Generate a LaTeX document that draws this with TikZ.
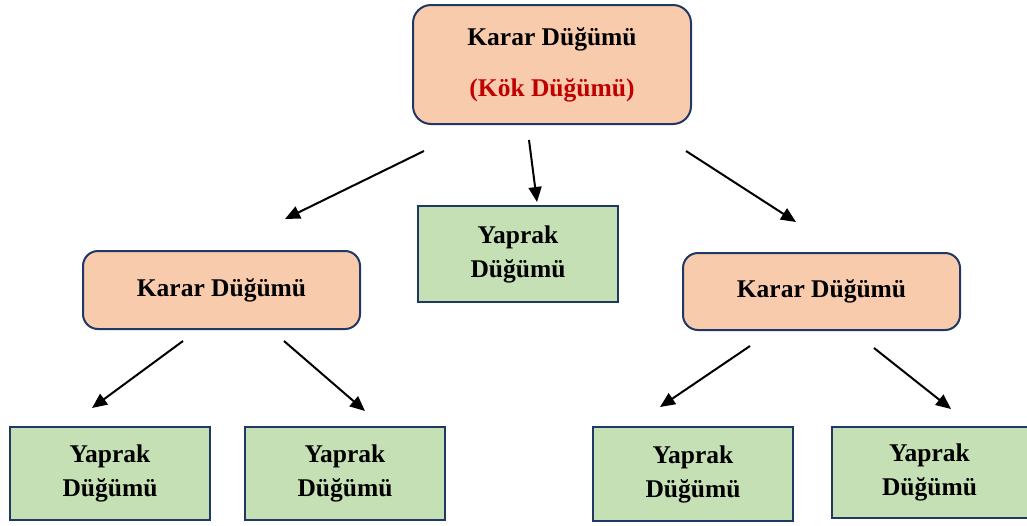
\documentclass[tikz,border=0pt]{standalone}
\usepackage{fontspec}
\setmainfont{Liberation Serif}
\usetikzlibrary{arrows.meta}
\definecolor{kararturuncu}{HTML}{F8CBAD}
\definecolor{yaprakyesil}{HTML}{C5E0B4}
\definecolor{kenarlacivert}{HTML}{203864}
\definecolor{kokkirmizi}{HTML}{C00000}

\begin{document}
\begin{tikzpicture}[x=1pt,y=-1pt,
		karar/.style={draw=kenarlacivert,fill=kararturuncu,line width=2pt,rounded corners=15pt,inner sep=0pt,align=center,font=\fontsize{25.5}{34}\selectfont\bfseries},
		yaprak/.style={draw=kenarlacivert,fill=yaprakyesil,line width=2pt,inner sep=0pt,align=center,minimum width=200pt,font=\fontsize{25.5}{34}\selectfont\bfseries},
		ok/.style={line width=2pt,-{Triangle[length=15pt,width=13pt]}}]
		\useasboundingbox (0,0) rectangle (1027,525);
		\node[karar,minimum width=278pt,minimum height=119pt,rounded corners=18pt] (kok) at (552,64.5) {Karar Düğümü\\[17pt]\textcolor{kokkirmizi}{(Kök Düğümü)}};
		\node[yaprak,minimum height=96pt] (orta) at (518,254) {Yaprak\\Düğümü};
		\node[karar,minimum width=277pt,minimum height=78pt] (solkarar) at (221.5,290) {Karar Düğümü};
		\node[karar,minimum width=277pt,minimum height=77pt] (sagkarar) at (821.5,291.5) {Karar Düğümü};
		\node[yaprak,minimum height=93pt] (yaprak1) at (110,473.5) {Yaprak\\Düğümü};
		\node[yaprak,minimum height=93pt] (yaprak2) at (345,473.5) {Yaprak\\Düğümü};
		\node[yaprak,minimum height=94pt] (yaprak3) at (693,474) {Yaprak\\Düğümü};
		\node[yaprak,minimum height=91pt,minimum width=196pt] (yaprak4) at (929.5,472.5) {Yaprak\\Düğümü};
		
		\coordinate (k1) at (424,151); \coordinate (s1) at (285,219);
		\coordinate (k2) at (529,140); \coordinate (o2) at (537,202);
		\coordinate (k3) at (686,151); \coordinate (s3) at (796,222);
		\coordinate (l1) at (183,341); \coordinate (y1) at (92,408);
		\coordinate (l2) at (284,341); \coordinate (y2) at (365,411);
		\coordinate (r1) at (750,346); \coordinate (y3) at (660,407);
		\coordinate (r2) at (874,348); \coordinate (y4) at (951,409);
		\draw[ok] (k1) -- (s1);
		\draw[ok] (k2) -- (o2);
		\draw[ok] (k3) -- (s3);
		\draw[ok] (l1) -- (y1);
		\draw[ok] (l2) -- (y2);
		\draw[ok] (r1) -- (y3);
		\draw[ok] (r2) -- (y4);
	\end{tikzpicture}
\end{document}
